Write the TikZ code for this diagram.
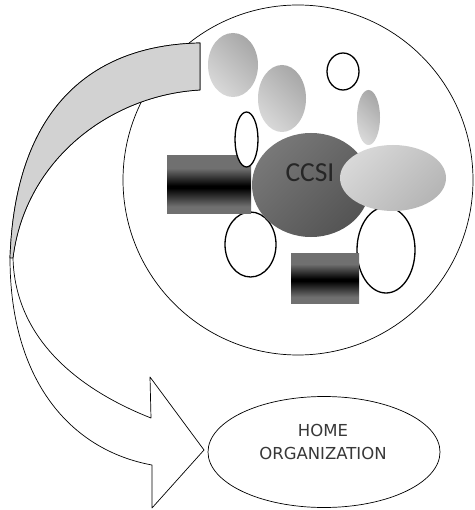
\documentclass[tikz,border=0pt]{standalone}
\usepackage{fontspec}
\setmainfont{DejaVu Sans}
\newfontfamily\calibfont{Carlito}
\usetikzlibrary{shapes.geometric}
\definecolor{bandgray}{HTML}{D2D2D2}
\definecolor{liteA}{HTML}{D8D8D8}
\definecolor{liteB}{HTML}{A8A8A8}
\definecolor{darkA}{HTML}{787878}
\definecolor{darkB}{HTML}{545454}
\definecolor{rectgray}{HTML}{707070}
\pgfdeclareverticalshading{barshade}{100bp}{color(0bp)=(rectgray); color(31bp)=(rectgray); color(47bp)=(black); color(49bp)=(black); color(64bp)=(rectgray); color(100bp)=(rectgray)}
\begin{document}
\begin{tikzpicture}[x=1pt,y=-1pt,
  el/.style={ellipse, inner sep=0pt, outer sep=0pt},
  outl/.style={el, draw=black, line width=1.3pt, fill=white},
  lite/.style={el, left color=liteA, right color=liteB, shading angle=135},
  bar/.style={rectangle, inner sep=0pt, outer sep=0pt, shading=barshade},
  thin/.style={draw=black, line width=0.7pt}]
\useasboundingbox (0,0) rectangle (474,510);
\fill[white] (0,0) rectangle (474,510);
% big circle
\node[circle, thin, fill=white, minimum size=350pt, inner sep=0pt] (big) at (298,180) {};
% outline ellipses behind
\node[outl, minimum width=51pt, minimum height=65pt] (oLL) at (250.5,244.5) {};
\node[outl, minimum width=58pt, minimum height=86pt] (oLR) at (386,250) {};
% light gradient ellipses
\node[lite, minimum width=50pt, minimum height=64pt] (g1) at (233,65) {};
\node[lite, minimum width=48pt, minimum height=67pt] (g2) at (282,98.5) {};
\node[lite, minimum width=23pt, minimum height=55pt] (g3) at (368.5,117.5) {};
% left bar
\node[bar, minimum width=84pt, minimum height=58pt] (barL) at (209,184.5) {};
% upper small outline ellipse
\node[outl, minimum width=23pt, minimum height=55pt] (oU) at (246.5,139.5) {};
% CCSI
\node[el, left color=darkA, right color=darkB, shading angle=45, minimum width=118pt, minimum height=104pt] (ccsi) at (311,185) {};
\node[font=\calibfont\fontsize{27.5}{30}\selectfont, text=black!85, inner sep=0pt] (ccsitxt) at (310,173) {CCSI};
% right light ellipse
\node[el, left color=liteA, right color=liteB!85!white, shading angle=45, minimum width=106pt, minimum height=66pt] (gR) at (393,178) {};
% bottom bar
\node[bar, minimum width=68pt, minimum height=50pt] (barB) at (325,278) {};
% small circle
\node[outl, minimum width=32pt, minimum height=37pt] (oC) at (343,71.5) {};
% curved arrow: full outline (white)
\path[fill=white, thin, line join=round]
  (200,43) .. controls (90,45) and (15,110) .. (10,258)
  .. controls (10,380) and (70,450) .. (152,465)
  -- (152,508) -- (204,450) -- (150,377) -- (151,418)
  .. controls (80,390) and (15,340) .. (13,258)
  .. controls (25,160) and (110,95) .. (200,90) -- cycle;
% grey front face of the band
\path[fill=bandgray, thin, line join=round]
  (200,43) .. controls (90,45) and (15,110) .. (10,258)
  -- (13,258) .. controls (25,160) and (110,95) .. (200,90) -- cycle;
% home organization
\node[el, thin, fill=white, minimum width=232pt, minimum height=111pt] (home) at (324,452) {};
\node[align=center, inner sep=0pt, font=\fontsize{16.5}{23}\selectfont, text=black!78] (hometxt) at (323,442) {HOME\\ORGANIZATION};
\end{tikzpicture}
\end{document}
